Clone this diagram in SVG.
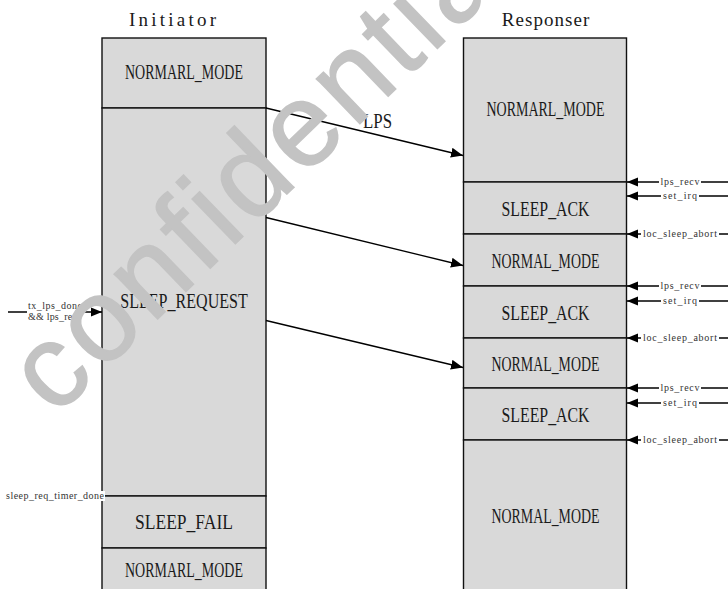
<svg xmlns="http://www.w3.org/2000/svg" width="728" height="589" viewBox="0 0 728 589">
<style>
.st{fill:#d9d9d9;stroke:#111;stroke-width:1.4}
.big{font-family:"Liberation Serif",serif;font-size:21px;fill:#1a1a1a;text-anchor:middle}
.hdr{font-family:"Liberation Serif",serif;font-size:19px;fill:#1a1a1a;text-anchor:middle}
.sm{font-family:"Liberation Serif",serif;font-size:10px;fill:#333;text-anchor:middle}
.ln{stroke:#000;stroke-width:1.3;fill:none}
.bg{fill:#fff}
.wm{font-family:"Liberation Sans",Arial,sans-serif;font-size:118px;letter-spacing:5px;fill:#c3c3c3;stroke:#c3c3c3;stroke-width:1.5}
</style>
<defs>
<marker id="ah" markerUnits="userSpaceOnUse" markerWidth="12" markerHeight="10" refX="12" refY="5" orient="auto">
<path d="M0,0 L12,5 L0,10 z" fill="#000"/>
</marker>
<marker id="ahs" markerUnits="userSpaceOnUse" markerWidth="11" markerHeight="10" refX="11" refY="5" orient="auto">
<path d="M0,0.5 L11,5 L0,9.5 z" fill="#000"/>
</marker>
</defs>
<rect width="728" height="589" fill="#fff"/>

<g id="initiator_header"><text class="hdr" x="172.5" y="26" textLength="87" lengthAdjust="spacing">Initiator</text></g>
<g id="responser_header"><text class="hdr" x="545.5" y="26" textLength="87.5" lengthAdjust="spacing">Responser</text></g>

<g id="init_normal_1"><rect class="st" x="102" y="38" width="164" height="70"/><text class="big" x="184" y="79" textLength="118" lengthAdjust="spacingAndGlyphs">NORMARL_MODE</text></g>
<g id="init_sleep_request"><rect class="st" x="102" y="108" width="164" height="388"/><text class="big" x="184" y="308" textLength="127.5" lengthAdjust="spacingAndGlyphs">SLEEP_REQUEST</text></g>
<g id="init_sleep_fail"><rect class="st" x="102" y="496" width="164" height="52"/><text class="big" x="184" y="529" textLength="98" lengthAdjust="spacingAndGlyphs">SLEEP_FAIL</text></g>
<g id="init_normal_2"><rect class="st" x="102" y="548" width="164" height="60"/><text class="big" x="184" y="577" textLength="118" lengthAdjust="spacingAndGlyphs">NORMARL_MODE</text></g>

<g id="resp_normal_1"><rect class="st" x="463.5" y="38" width="163" height="144"/><text class="big" x="545.5" y="116" textLength="118" lengthAdjust="spacingAndGlyphs">NORMARL_MODE</text></g>
<g id="resp_ack_1"><rect class="st" x="463.5" y="182" width="163" height="52"/><text class="big" x="545.5" y="215.5" textLength="88" lengthAdjust="spacingAndGlyphs">SLEEP_ACK</text></g>
<g id="resp_normal_2"><rect class="st" x="463.5" y="234" width="163" height="52"/><text class="big" x="545.5" y="267.5" textLength="108" lengthAdjust="spacingAndGlyphs">NORMAL_MODE</text></g>
<g id="resp_ack_2"><rect class="st" x="463.5" y="286" width="163" height="52"/><text class="big" x="545.5" y="319.5" textLength="88" lengthAdjust="spacingAndGlyphs">SLEEP_ACK</text></g>
<g id="resp_normal_3"><rect class="st" x="463.5" y="338" width="163" height="50"/><text class="big" x="545.5" y="370.5" textLength="108" lengthAdjust="spacingAndGlyphs">NORMAL_MODE</text></g>
<g id="resp_ack_3"><rect class="st" x="463.5" y="388" width="163" height="52"/><text class="big" x="545.5" y="421.5" textLength="88" lengthAdjust="spacingAndGlyphs">SLEEP_ACK</text></g>
<g id="resp_normal_4"><rect class="st" x="463.5" y="440" width="163" height="168"/><text class="big" x="545.5" y="523" textLength="108" lengthAdjust="spacingAndGlyphs">NORMAL_MODE</text></g>

<g id="connectors">
<line class="ln" x1="266" y1="108" x2="463" y2="155.5" marker-end="url(#ah)"/>
<text class="big" x="377.5" y="128" textLength="29" lengthAdjust="spacingAndGlyphs">LPS</text>
<line class="ln" x1="266" y1="217.5" x2="463" y2="265.5" marker-end="url(#ah)"/>
<line class="ln" x1="266" y1="320.5" x2="463" y2="367.5" marker-end="url(#ah)"/>

<line class="ln" x1="728" y1="182" x2="627" y2="182" marker-end="url(#ahs)"/>
<rect class="bg" x="659" y="177" width="42" height="10"/><text class="sm" x="680" y="185" textLength="39" lengthAdjust="spacing">lps_recv</text>
<line class="ln" x1="728" y1="196" x2="627" y2="196" marker-end="url(#ahs)"/>
<rect class="bg" x="661" y="191" width="38" height="10"/><text class="sm" x="680" y="199" textLength="34" lengthAdjust="spacing">set_irq</text>
<line class="ln" x1="728" y1="234" x2="627" y2="234" marker-end="url(#ahs)"/>
<rect class="bg" x="641" y="229" width="78" height="10"/><text class="sm" x="680" y="237" textLength="74" lengthAdjust="spacing">loc_sleep_abort</text>

<line class="ln" x1="728" y1="286" x2="627" y2="286" marker-end="url(#ahs)"/>
<rect class="bg" x="659" y="281" width="42" height="10"/><text class="sm" x="680" y="289" textLength="39" lengthAdjust="spacing">lps_recv</text>
<line class="ln" x1="728" y1="301" x2="627" y2="301" marker-end="url(#ahs)"/>
<rect class="bg" x="661" y="296" width="38" height="10"/><text class="sm" x="680" y="304" textLength="34" lengthAdjust="spacing">set_irq</text>
<line class="ln" x1="728" y1="338" x2="627" y2="338" marker-end="url(#ahs)"/>
<rect class="bg" x="641" y="333" width="78" height="10"/><text class="sm" x="680" y="341" textLength="74" lengthAdjust="spacing">loc_sleep_abort</text>

<line class="ln" x1="728" y1="388" x2="627" y2="388" marker-end="url(#ahs)"/>
<rect class="bg" x="659" y="383" width="42" height="10"/><text class="sm" x="680" y="391" textLength="39" lengthAdjust="spacing">lps_recv</text>
<line class="ln" x1="728" y1="403" x2="627" y2="403" marker-end="url(#ahs)"/>
<rect class="bg" x="661" y="398" width="38" height="10"/><text class="sm" x="680" y="406" textLength="34" lengthAdjust="spacing">set_irq</text>
<line class="ln" x1="728" y1="440" x2="627" y2="440" marker-end="url(#ahs)"/>
<rect class="bg" x="641" y="435" width="78" height="10"/><text class="sm" x="680" y="443" textLength="74" lengthAdjust="spacing">loc_sleep_abort</text>

<line class="ln" x1="8" y1="312" x2="102" y2="312" marker-end="url(#ahs)"/>
<rect class="bg" x="27" y="302" width="57" height="21"/>
<text class="sm" x="55" y="309" textLength="54" lengthAdjust="spacing">tx_lps_done</text>
<text class="sm" x="55" y="320" textLength="54" lengthAdjust="spacing">&amp;&amp; lps_recv</text>

<rect class="bg" x="4" y="491" width="101" height="10"/>
<text class="sm" x="55" y="499" textLength="98" lengthAdjust="spacing">sleep_req_timer_done</text>
</g>

<text class="wm" x="55" y="418" transform="rotate(-44 55 418)">confidential</text>
</svg>
